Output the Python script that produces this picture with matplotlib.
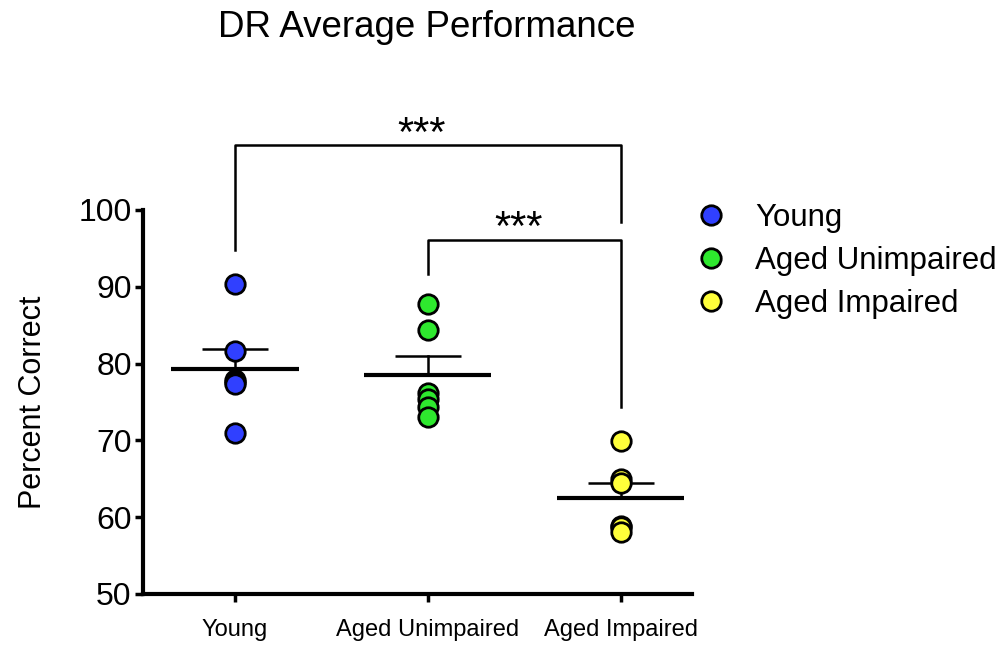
import numpy as np
import matplotlib.pyplot as plt
from matplotlib.lines import Line2D

plt.rcParams['font.family'] = ['Liberation Sans', 'DejaVu Sans']

groups = ['Young', 'Aged Unimpaired', 'Aged Impaired']
young = [90.3, 81.7, 77.9, 77.6, 77.4, 71.0]
aged_unimpaired = [87.7, 84.4, 76.2, 75.4, 74.3, 73.0]
aged_impaired = [69.9, 65.0, 64.5, 58.8, 58.7, 58.1]
colors = ['#3040ff', '#2ee82e', '#ffff3a']

# significance brackets: (left group, right group, bar height, left leg end, right leg end, label)
brackets = [
    (0, 2, 108.4, 94.8, 98.4, '***'),
    (1, 2, 96.1, 91.6, 74.3, '***'),
]

fig = plt.figure(figsize=(10.06, 6.46), dpi=100)
ax = fig.add_axes([0.142, 0.0805, 0.546, 0.5945])

data = [young, aged_unimpaired, aged_impaired]
for i, (vals, c) in enumerate(zip(data, colors)):
    vals = np.array(vals)
    m = vals.mean()
    sem = vals.std(ddof=1) / np.sqrt(len(vals))
    # mean line and upper SEM whisker only
    ax.plot([i - 0.33, i + 0.33], [m, m], color='black', lw=3, zorder=2, solid_capstyle='butt')
    ax.plot([i, i], [m, m + sem], color='black', lw=1.8, zorder=2)
    ax.plot([i - 0.17, i + 0.17], [m + sem, m + sem], color='black', lw=1.8, zorder=2, solid_capstyle='butt')
    ax.plot(np.full(len(vals), i), vals, 'o', ms=14, mfc=c, mec='black', mew=2, zorder=3, clip_on=False)

for a, b, h, la, lb, lab in brackets:
    ax.plot([a, a, b, b], [la, h, h, lb], color='black', lw=1.8, clip_on=False)
    ax.text((a + b) / 2 - 0.03, h - 1.2, lab, ha='center', va='bottom', fontsize=30)

ax.set_xlim(-0.477, 2.37)
ax.set_ylim(50, 100)
ax.set_yticks([50, 60, 70, 80, 90, 100])
ax.set_xticks([0, 1, 2])
ax.set_xticklabels(groups, fontsize=17)
ax.tick_params(axis='y', labelsize=23, width=2.5, length=6, pad=2)
ax.tick_params(axis='x', width=2.5, length=6, pad=12)
ax.set_ylabel('Percent Correct', fontsize=22, labelpad=22)
for s in ['top', 'right']:
    ax.spines[s].set_visible(False)
for s in ['left', 'bottom']:
    ax.spines[s].set_linewidth(3)

fig.text(0.424, 0.958, 'DR Average Performance', ha='center', va='center', fontsize=26.5)

handles = [Line2D([], [], ls='none', marker='o', ms=14, mfc=c, mec='black', mew=2) for c in colors]
fig.legend(handles, groups, loc='upper left', bbox_to_anchor=(0.676, 0.705), frameon=False,
           fontsize=22.5, handletextpad=0.8, labelspacing=0.42, handlelength=1.2, borderaxespad=0)

fig.savefig('out.png', dpi=100)
